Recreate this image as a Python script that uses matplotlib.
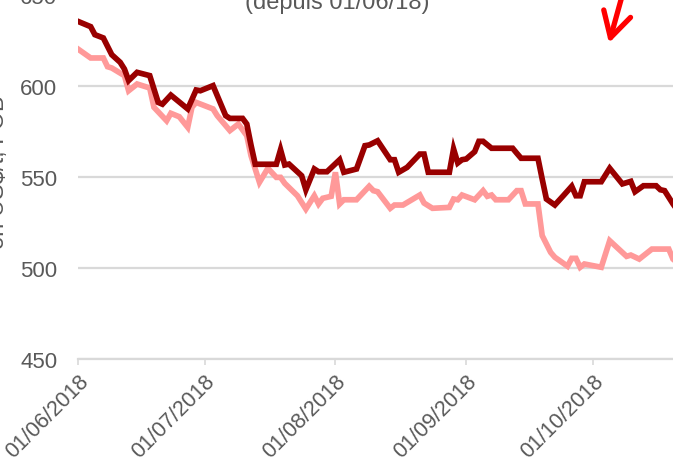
import matplotlib
matplotlib.use('Agg')
import matplotlib.pyplot as plt
import matplotlib.dates as mdates
import pandas as pd

# Prix en US$/t, FOB (jours depuis le 01/06/2018)
debut = pd.Timestamp('2018-06-01')

jours_fonce = [0, 3, 4, 6, 8, 10, 11, 12, 14, 17, 19, 20, 22, 26, 28, 29, 32, 35, 36, 39,
               40, 41, 42, 46, 47, 48, 49, 50, 53, 54, 56, 57, 59, 62, 63, 66, 68, 69, 71, 74,
               75, 76, 78, 81, 82, 83, 88, 89, 90, 91, 92, 94, 95, 96, 98, 103, 104, 105, 109, 110,
               111, 113, 115, 117, 118, 119, 120, 124, 126, 129, 131, 132, 134, 137, 138, 139, 141, 142]
prix_fonce = [635.5, 632.6, 628.2, 626.4, 617.2, 613.0, 609.3, 603.0, 607.5, 605.7, 591.0, 590.0, 595.0, 587.4, 597.8, 597.4, 600.2, 583.7, 582.2, 582.2,
              579.1, 567.5, 557.0, 557.0, 557.0, 565.0, 556.6, 557.1, 550.7, 543.0, 554.4, 552.9, 552.9, 559.5, 552.6, 554.4, 567.2, 567.6, 569.9, 559.5,
              559.5, 552.6, 555.3, 562.6, 562.6, 552.6, 552.6, 565.4, 557.7, 559.5, 559.9, 563.9, 569.6, 569.6, 565.8, 565.8, 563.0, 560.3, 560.3, 548.9,
              537.9, 534.6, 539.7, 544.9, 539.7, 539.7, 547.4, 547.4, 554.8, 546.2, 547.6, 541.9, 545.2, 545.2, 543.0, 542.5, 535.2, 532.0]

jours_clair = [0, 3, 6, 7, 8, 11, 12, 14, 17, 18, 21, 22, 24, 26, 27, 28, 32, 33, 36, 38,
               40, 41, 43, 45, 47, 48, 49, 52, 54, 56, 57, 58, 60, 61, 62, 63, 66, 69, 70, 71,
               74, 75, 77, 81, 82, 84, 88, 89, 90, 91, 94, 96, 97, 98, 99, 102, 104, 105, 106, 109,
               110, 112, 113, 116, 117, 118, 119, 120, 124, 126, 130, 131, 133, 136, 140, 141, 142]
prix_clair = [620.3, 615.4, 615.4, 610.6, 609.9, 605.7, 597.4, 601.1, 598.9, 588.3, 580.9, 585.0, 583.1, 577.3, 588.3, 591.0, 587.4, 583.7, 575.5, 579.1,
              572.7, 561.7, 547.1, 554.8, 549.8, 549.8, 546.5, 539.7, 532.4, 539.7, 535.2, 538.3, 539.4, 552.6, 535.2, 537.5, 537.5, 544.9, 542.5, 541.9,
              532.8, 534.6, 534.6, 540.1, 535.7, 532.8, 533.3, 537.9, 537.5, 540.1, 537.5, 542.5, 539.4, 540.1, 537.5, 537.5, 542.5, 542.5, 535.2, 535.2,
              517.8, 508.6, 505.9, 501.0, 505.3, 505.3, 500.4, 502.2, 500.4, 515.0, 506.4, 507.1, 504.9, 510.4, 510.4, 504.9, 503.0]

graduations_y = [450, 500, 550, 600, 650, 700]
dates_ticks = ['2018-06-01', '2018-07-01', '2018-08-01', '2018-09-01', '2018-10-01']

gris_texte = '#595959'
gris_grille = '#d9d9d9'

dates_fonce = debut + pd.to_timedelta(jours_fonce, unit='D')
dates_clair = debut + pd.to_timedelta(jours_clair, unit='D')

plt.rcParams['font.family'] = ['Liberation Sans', 'DejaVu Sans']

fig = plt.figure(figsize=(6.73, 4.64), dpi=100)
# la zone de tracé déborde du cadre (image recadrée)
ax = fig.add_axes([78 / 673, 104 / 464, 595 / 673, 455 / 464])

ax.plot(dates_clair, prix_clair, color='#ff9999', lw=4.1, solid_joinstyle='miter')
ax.plot(dates_fonce, prix_fonce, color='#990000', lw=4.1, solid_joinstyle='miter')

ax.set_yticks(graduations_y)
ax.set_ylim(450, 700)
ax.set_xticks(pd.to_datetime(dates_ticks))
ax.set_xlim(debut, debut + pd.Timedelta(days=141))
ax.xaxis.set_major_formatter(mdates.DateFormatter('%d/%m/%Y'))

ax.grid(axis='y', color=gris_grille, lw=1.6)
ax.set_axisbelow(True)
for s in ['top', 'right', 'left']:
    ax.spines[s].set_visible(False)
ax.spines['bottom'].set_color(gris_grille)
ax.spines['bottom'].set_linewidth(1.6)

ax.tick_params(axis='y', length=0, pad=15, labelsize=16, labelcolor=gris_texte)
ax.tick_params(axis='x', length=4, width=1.2, color=gris_grille, pad=4, labelsize=15.5, labelcolor=gris_texte)
for lab in ax.get_xticklabels():
    lab.set_rotation(45)
    lab.set_ha('right')
    lab.set_va('top')
    lab.set_rotation_mode('anchor')

fig.text(337 / 673, 1 - 9 / 464, '(depuis 01/06/18)', ha='center', va='baseline',
         fontsize=17, color=gris_texte)
fig.text(9 / 673, 1 - 172 / 464, 'en US$/t, FOB', rotation=90, ha='right', va='center',
         fontsize=17, color=gris_texte)

# flèche rouge
ax.annotate('', xy=(609, 464 - 44), xycoords='figure pixels',
            xytext=(624, 474), textcoords='figure pixels',
            arrowprops=dict(arrowstyle='->, head_length=0.9, head_width=0.5', color='red',
                            lw=3.8, mutation_scale=20, shrinkA=0, shrinkB=0))

fig.savefig('out.png', dpi=100)
